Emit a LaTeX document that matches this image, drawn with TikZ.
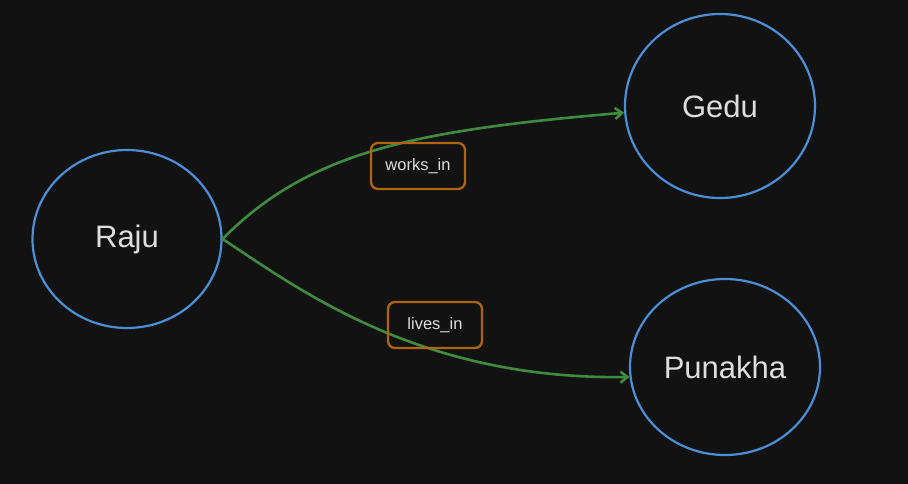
\documentclass[tikz,border=0pt]{standalone}
\usepackage{fontspec}
\setmainfont{Liberation Sans}
\usetikzlibrary{positioning,arrows.meta,shapes.geometric}
\definecolor{bg}{HTML}{121212}
\definecolor{place}{HTML}{4A8FD8}
\definecolor{rel}{HTML}{3F8C3E}
\definecolor{tag}{HTML}{B0640E}
\definecolor{ink}{HTML}{DEDEDE}

\begin{document}
\begin{tikzpicture}[x=1pt,y=-1pt,
 ent/.style={ellipse,draw=place,line width=2.2pt,text=ink,font=\fontsize{31}{33}\selectfont},
 rlabel/.style={rectangle,rounded corners=7pt,draw=tag,line width=2.3pt,text=ink,
  minimum width=94pt,minimum height=46pt,font=\fontsize{16.5}{18}\selectfont},
 edge/.style={rel,line width=2.6pt,-{Straight Barb[length=7pt,width=11pt]}}]
 \fill[bg] (0,0) rectangle (908,484);
 \useasboundingbox (0,0) rectangle (908,484);
 \node[ent,minimum width=189pt,minimum height=178pt] (raju) at (127,239) {Raju};
 \node[ent,minimum width=190pt,minimum height=184pt] (gedu) at (720,106) {Gedu};
 \node[ent,minimum width=190pt,minimum height=176pt] (punakha) at (725,367) {Punakha};
 \draw[edge] (raju.east) .. controls (310,150) and (420,130) .. (gedu.184);
 \draw[edge] (raju.east) .. controls (300,290) and (420,380) .. (punakha.186);
 \node[rlabel] (worksin) at (418,166) {works\_in};
 \node[rlabel] (livesin) at (435,325) {lives\_in};
\end{tikzpicture}
\end{document}
